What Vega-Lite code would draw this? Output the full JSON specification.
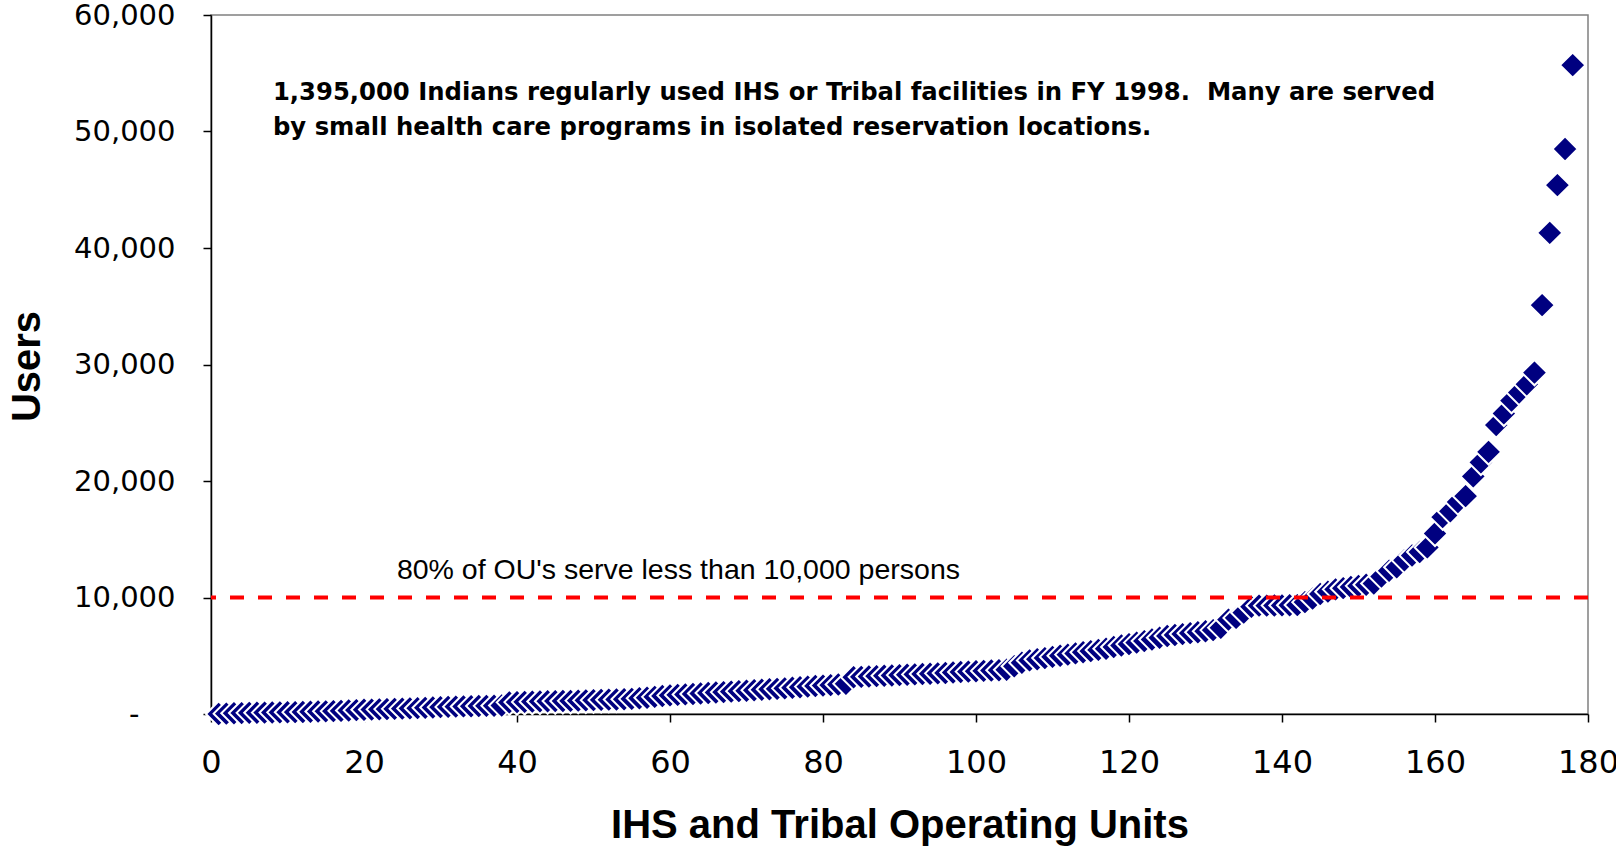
{
  "$schema": "https://vega.github.io/schema/vega-lite/v6.json",
  "width": 1377,
  "height": 699,
  "autosize": {"type": "none"},
  "padding": {"left": 211, "top": 15, "right": 28, "bottom": 133},
  "background": "white",
  "config": {
    "view": {"stroke": "#808080", "strokeWidth": 1.5},
    "font": "Liberation Sans"
  },
  "datasets": {
    "units": [
      {"unit": 1, "users": 0}, {"unit": 2, "users": 30}, {"unit": 3, "users": 60}, {"unit": 4, "users": 80},
      {"unit": 5, "users": 100}, {"unit": 6, "users": 110}, {"unit": 7, "users": 120}, {"unit": 8, "users": 130},
      {"unit": 9, "users": 140}, {"unit": 10, "users": 150}, {"unit": 11, "users": 160}, {"unit": 12, "users": 170},
      {"unit": 13, "users": 190}, {"unit": 14, "users": 210}, {"unit": 15, "users": 230}, {"unit": 16, "users": 250},
      {"unit": 17, "users": 270}, {"unit": 18, "users": 300}, {"unit": 19, "users": 330}, {"unit": 20, "users": 360},
      {"unit": 21, "users": 380}, {"unit": 22, "users": 400}, {"unit": 23, "users": 420}, {"unit": 24, "users": 440},
      {"unit": 25, "users": 460}, {"unit": 26, "users": 480}, {"unit": 27, "users": 500}, {"unit": 28, "users": 530},
      {"unit": 29, "users": 560}, {"unit": 30, "users": 590}, {"unit": 31, "users": 610}, {"unit": 32, "users": 630},
      {"unit": 33, "users": 650}, {"unit": 34, "users": 670}, {"unit": 35, "users": 690}, {"unit": 36, "users": 700},
      {"unit": 37, "users": 710}, {"unit": 38, "users": 730}, {"unit": 39, "users": 1000}, {"unit": 40, "users": 1020},
      {"unit": 41, "users": 1040}, {"unit": 42, "users": 1060}, {"unit": 43, "users": 1080}, {"unit": 44, "users": 1100},
      {"unit": 45, "users": 1110}, {"unit": 46, "users": 1120}, {"unit": 47, "users": 1130}, {"unit": 48, "users": 1150},
      {"unit": 49, "users": 1170}, {"unit": 50, "users": 1190}, {"unit": 51, "users": 1210}, {"unit": 52, "users": 1230},
      {"unit": 53, "users": 1250}, {"unit": 54, "users": 1270}, {"unit": 55, "users": 1300}, {"unit": 56, "users": 1350},
      {"unit": 57, "users": 1400}, {"unit": 58, "users": 1470}, {"unit": 59, "users": 1540}, {"unit": 60, "users": 1600},
      {"unit": 61, "users": 1640}, {"unit": 62, "users": 1680}, {"unit": 63, "users": 1720}, {"unit": 64, "users": 1760},
      {"unit": 65, "users": 1800}, {"unit": 66, "users": 1840}, {"unit": 67, "users": 1880}, {"unit": 68, "users": 1920},
      {"unit": 69, "users": 1960}, {"unit": 70, "users": 2000}, {"unit": 71, "users": 2040}, {"unit": 72, "users": 2080},
      {"unit": 73, "users": 2120}, {"unit": 74, "users": 2160}, {"unit": 75, "users": 2200}, {"unit": 76, "users": 2250},
      {"unit": 77, "users": 2300}, {"unit": 78, "users": 2350}, {"unit": 79, "users": 2400}, {"unit": 80, "users": 2440},
      {"unit": 81, "users": 2480}, {"unit": 82, "users": 2530}, {"unit": 83, "users": 2590}, {"unit": 84, "users": 3160},
      {"unit": 85, "users": 3190}, {"unit": 86, "users": 3220}, {"unit": 87, "users": 3250}, {"unit": 88, "users": 3280},
      {"unit": 89, "users": 3310}, {"unit": 90, "users": 3340}, {"unit": 91, "users": 3370}, {"unit": 92, "users": 3400},
      {"unit": 93, "users": 3430}, {"unit": 94, "users": 3460}, {"unit": 95, "users": 3490}, {"unit": 96, "users": 3520},
      {"unit": 97, "users": 3560}, {"unit": 98, "users": 3600}, {"unit": 99, "users": 3640}, {"unit": 100, "users": 3670},
      {"unit": 101, "users": 3700}, {"unit": 102, "users": 3730}, {"unit": 103, "users": 3760}, {"unit": 104, "users": 3800},
      {"unit": 105, "users": 4100}, {"unit": 106, "users": 4400}, {"unit": 107, "users": 4600}, {"unit": 108, "users": 4700},
      {"unit": 109, "users": 4800}, {"unit": 110, "users": 4900}, {"unit": 111, "users": 5000}, {"unit": 112, "users": 5100},
      {"unit": 113, "users": 5200}, {"unit": 114, "users": 5300}, {"unit": 115, "users": 5400}, {"unit": 116, "users": 5500},
      {"unit": 117, "users": 5600}, {"unit": 118, "users": 5750}, {"unit": 119, "users": 5880}, {"unit": 120, "users": 6000},
      {"unit": 121, "users": 6130}, {"unit": 122, "users": 6260}, {"unit": 123, "users": 6400}, {"unit": 124, "users": 6550},
      {"unit": 125, "users": 6700}, {"unit": 126, "users": 6780}, {"unit": 127, "users": 6860}, {"unit": 128, "users": 6940},
      {"unit": 129, "users": 7020}, {"unit": 130, "users": 7100}, {"unit": 131, "users": 7200}, {"unit": 132, "users": 7400},
      {"unit": 133, "users": 8100}, {"unit": 134, "users": 8250}, {"unit": 135, "users": 8700}, {"unit": 136, "users": 9200},
      {"unit": 137, "users": 9300}, {"unit": 138, "users": 9300}, {"unit": 139, "users": 9310}, {"unit": 140, "users": 9320},
      {"unit": 141, "users": 9330}, {"unit": 142, "users": 9350}, {"unit": 143, "users": 9600}, {"unit": 144, "users": 9900},
      {"unit": 145, "users": 10300}, {"unit": 146, "users": 10500}, {"unit": 147, "users": 10700}, {"unit": 148, "users": 10800},
      {"unit": 149, "users": 10900}, {"unit": 150, "users": 11000}, {"unit": 151, "users": 11100}, {"unit": 152, "users": 11200},
      {"unit": 153, "users": 11800}, {"unit": 154, "users": 12300}, {"unit": 155, "users": 12600}, {"unit": 156, "users": 13200},
      {"unit": 157, "users": 13600}, {"unit": 158, "users": 13900}, {"unit": 159, "users": 14300}, {"unit": 160, "users": 15500},
      {"unit": 161, "users": 16900}, {"unit": 162, "users": 17400}, {"unit": 163, "users": 18200}, {"unit": 164, "users": 18700},
      {"unit": 165, "users": 20400}, {"unit": 166, "users": 21600}, {"unit": 167, "users": 22500}, {"unit": 168, "users": 24800},
      {"unit": 169, "users": 25800}, {"unit": 170, "users": 26900}, {"unit": 171, "users": 27600}, {"unit": 172, "users": 28300},
      {"unit": 173, "users": 29300}, {"unit": 174, "users": 35100}, {"unit": 175, "users": 41300}, {"unit": 176, "users": 45400},
      {"unit": 177, "users": 48500}, {"unit": 178, "users": 55700}
    ],
    "threshold": [{"users": 10000}],
    "notes": [
      {"unit": 24.3, "users": 11570, "label": "80% of OU's serve less than 10,000 persons"}
    ],
    "headline": [
      {"unit": 8.1, "users": 52700, "label": ["1,395,000 Indians regularly used IHS or Tribal facilities in FY 1998. \u00a0Many are served", "by small health care programs in isolated reservation locations."]}
    ]
  },
  "layer": [
    {
      "data": {"name": "units"},
      "mark": {"type": "point", "shape": "diamond", "filled": true, "size": 640, "fill": "#000080", "stroke": "white", "strokeWidth": 2, "opacity": 1},
      "encoding": {
        "x": {
          "field": "unit", "type": "quantitative",
          "scale": {"domain": [0, 180], "nice": false, "zero": true},
          "axis": {
            "values": [0, 20, 40, 60, 80, 100, 120, 140, 160, 180],
            "title": "IHS and Tribal Operating Units",
            "grid": false,
            "domainColor": "black", "domainWidth": 1.5,
            "tickColor": "black", "tickSize": 8, "tickWidth": 1.5,
            "labelFont": "DejaVu Sans", "labelFontSize": 32, "labelColor": "black",
            "labelPadding": 25, "labelFlush": false,
            "titleFont": "Liberation Sans", "titleFontSize": 40, "titleFontWeight": "bold", "titleColor": "black",
            "titleBaseline": "alphabetic", "titleY": 123
          }
        },
        "y": {
          "field": "users", "type": "quantitative",
          "scale": {"domain": [0, 60000], "nice": false},
          "axis": {
            "values": [0, 10000, 20000, 30000, 40000, 50000, 60000],
            "labelExpr": "datum.value == 0 ? '-' : format(datum.value, ',')",
            "title": "Users",
            "grid": false,
            "domainColor": "black", "domainWidth": 1.5,
            "tickColor": "black", "tickSize": 8, "tickWidth": 1.5,
            "labelFont": "DejaVu Sans", "labelFontSize": 29, "labelColor": "black",
            "labelPadding": {"condition": {"test": "datum.value == 0", "value": 64}, "value": 28},
            "labelFlush": false,
            "titleFont": "Liberation Sans", "titleFontSize": 40, "titleFontWeight": "bold", "titleColor": "black",
            "titleAngle": 270, "titleBaseline": "alphabetic", "titleAlign": "center",
            "titleX": -172, "titleY": 351
          }
        }
      }
    },
    {
      "data": {"name": "threshold"},
      "mark": {"type": "rule", "color": "#FF0000", "strokeWidth": 4, "strokeDash": [14, 14]},
      "encoding": {"y": {"field": "users", "type": "quantitative"}}
    },
    {
      "data": {"name": "notes"},
      "mark": {"type": "text", "align": "left", "baseline": "alphabetic", "font": "Liberation Sans", "fontSize": 28.5, "color": "black"},
      "encoding": {
        "x": {"field": "unit", "type": "quantitative"},
        "y": {"field": "users", "type": "quantitative"},
        "text": {"field": "label"}
      }
    },
    {
      "data": {"name": "headline"},
      "mark": {"type": "text", "align": "left", "baseline": "alphabetic", "font": "DejaVu Sans", "fontSize": 24.3, "fontWeight": "bold", "lineHeight": 35, "color": "black"},
      "encoding": {
        "x": {"field": "unit", "type": "quantitative"},
        "y": {"field": "users", "type": "quantitative"},
        "text": {"field": "label"}
      }
    }
  ]
}
